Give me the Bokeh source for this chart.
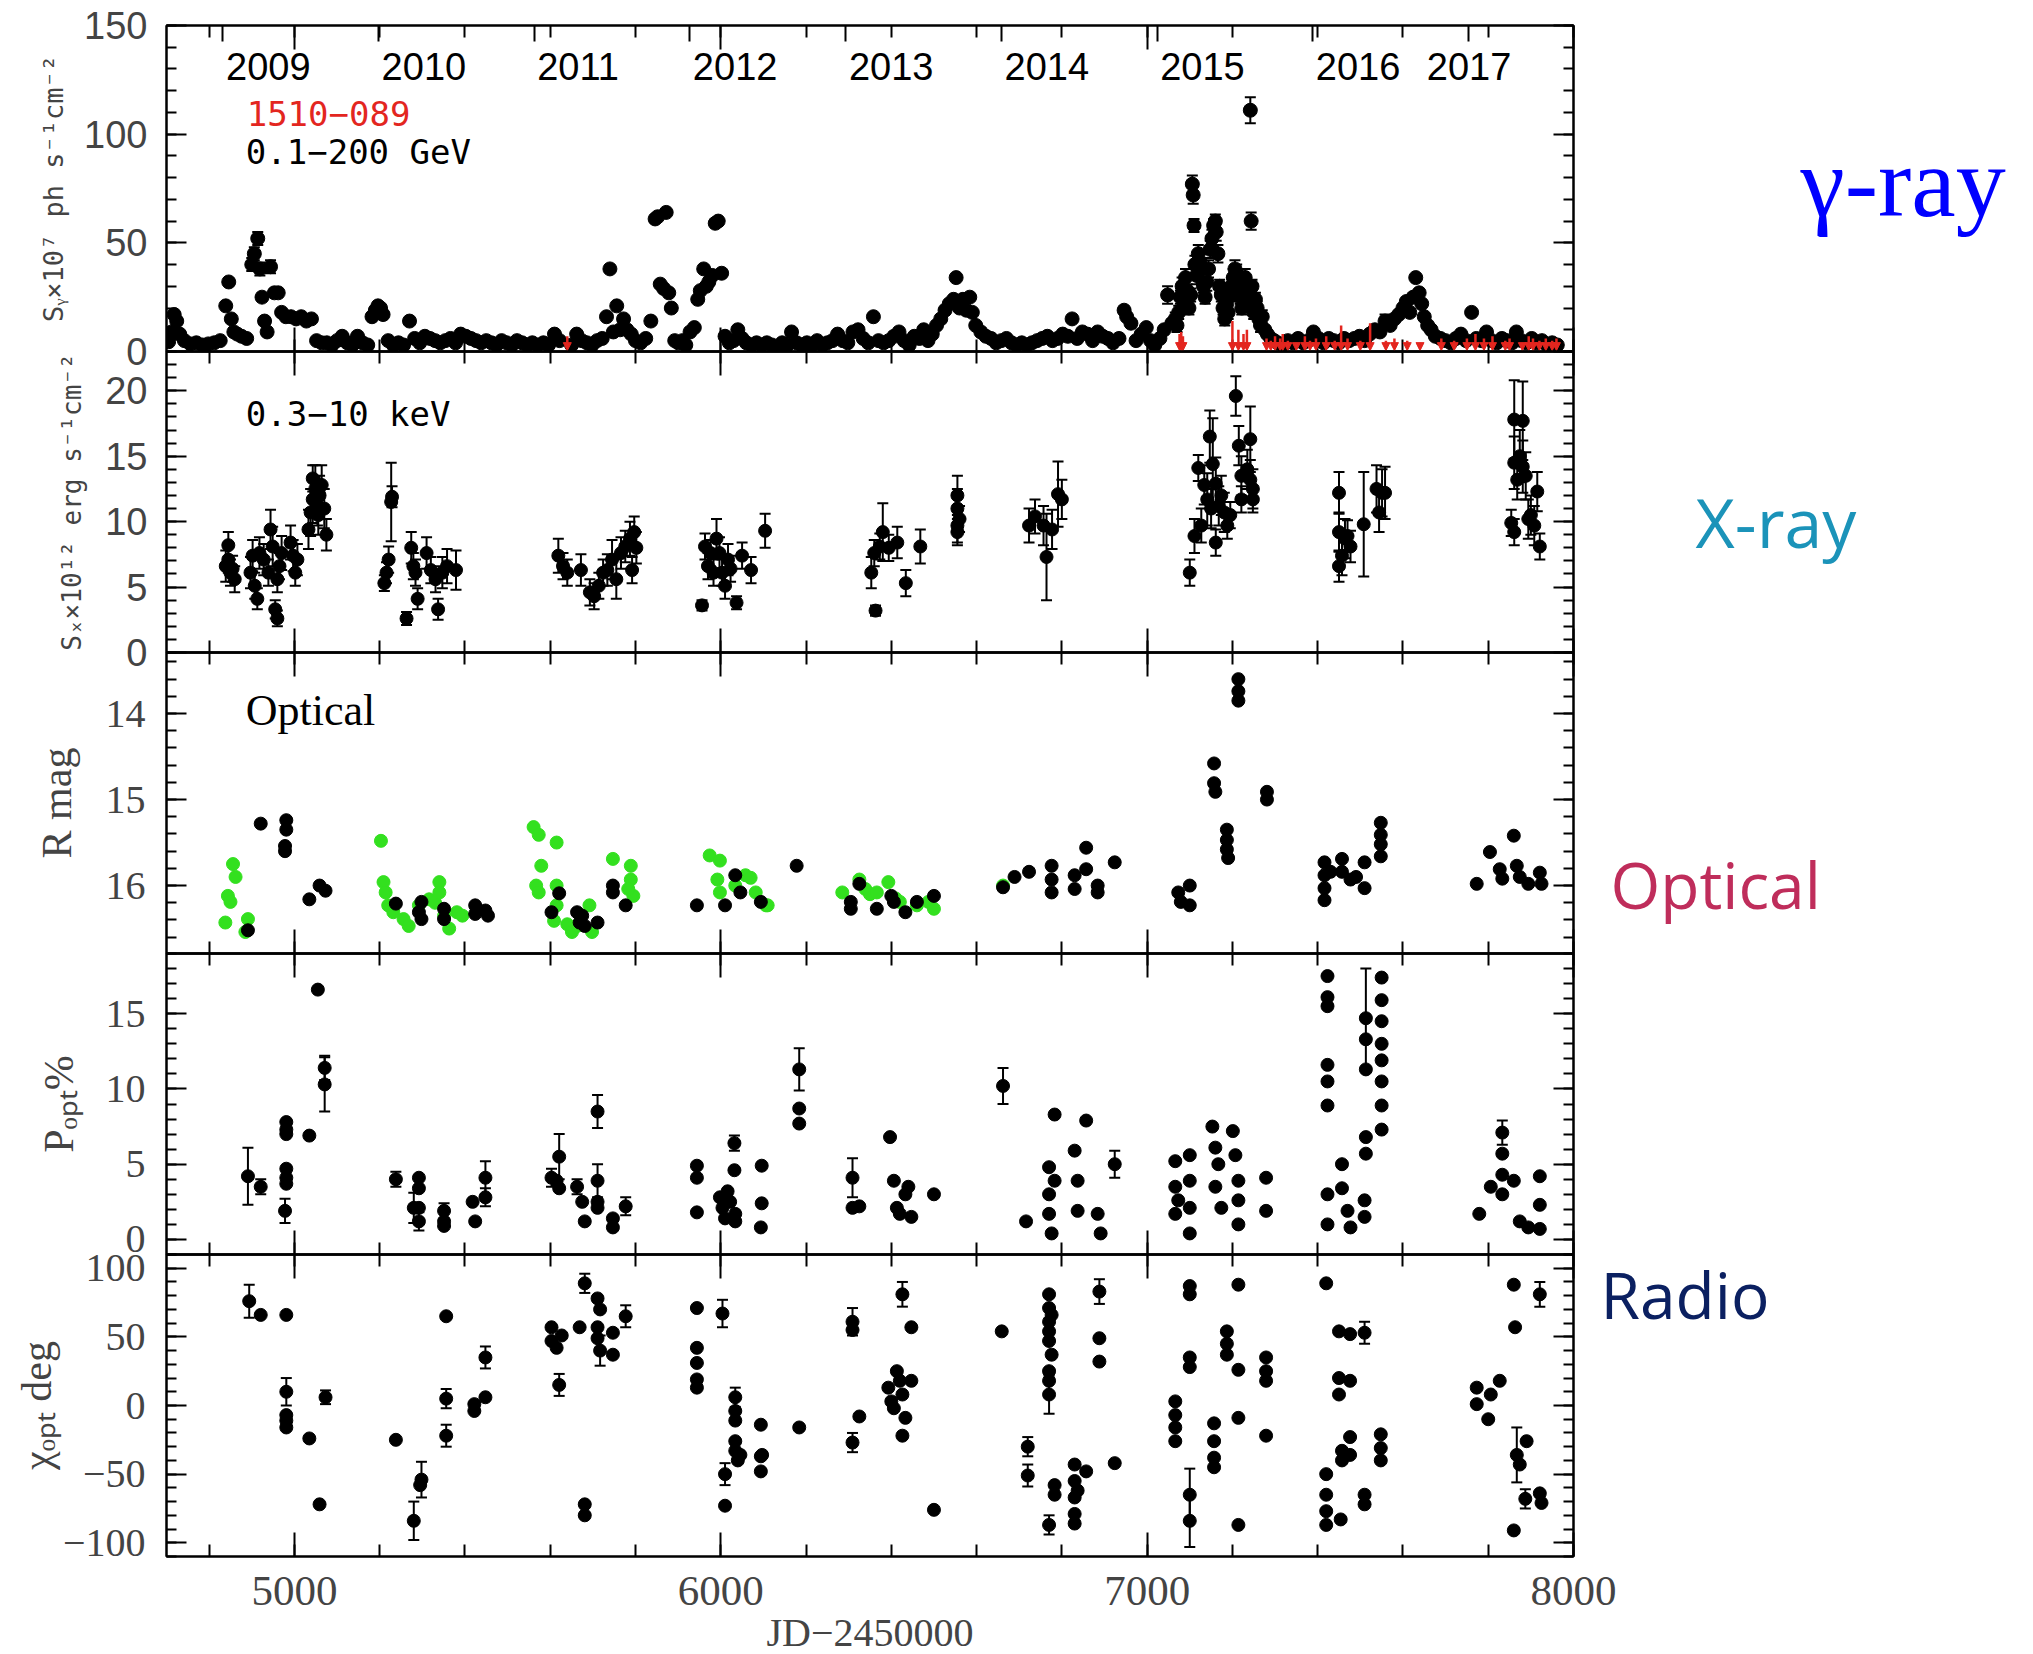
from bokeh.plotting import figure
from bokeh.layouts import column, row
from bokeh.models import (Range1d, LinearAxis, SingleIntervalTicker, FixedTicker, Whisker,
                          TeeHead, ColumnDataSource, Label, Arrow, NormalHead, CustomJSTickFormatter,
                          CustomLabelingPolicy)
from bokeh.embed import file_html
from bokeh.resources import INLINE
from bokeh.core.properties import value

# ---------------- data (JD-2450000) ----------------
year_jd = [4832.5, 5197.5, 5562.5, 5927.5, 6293.5, 6658.5, 7023.5, 7388.5, 7754.5]
year_lab = ["2009", "2010", "2011", "2012", "2013", "2014", "2015", "2016", "2017"]

# gamma-ray: (JD, flux, err)
gamma = [
    (4705, 4.5, 1), (4712, 9, 1), (4718, 17, 2), (4724, 14, 2), (4731, 8, 1), (4742, 5, 1), (4756, 3.5, 1),
    (4770, 4, 1), (4784, 3, 1), (4798, 3.5, 1), (4812, 4, 1), (4826, 5, 1), (4839, 21, 2), (4846, 32, 2),
    (4852, 15, 2), (4858, 9, 1), (4866, 8, 1), (4876, 7, 1), (4888, 6, 1), (4900, 40, 3), (4906, 45, 3),
    (4914, 52, 3), (4919, 38, 3), (4924, 25, 2), (4930, 14, 2), (4936, 9, 1), (4944, 39, 3), (4953, 27, 2),
    (4962, 27, 2), (4970, 18, 2), (4980, 16, 2), (4992, 16, 2), (5004, 15, 2), (5016, 16, 2), (5028, 14, 2),
    (5040, 15, 2), (5052, 5, 1), (5064, 4, 1), (5076, 4, 1), (5088, 3, 1), (5100, 5, 1), (5112, 7, 1),
    (5124, 4, 1), (5136, 3, 1), (5148, 7, 1), (5160, 4, 1), (5172, 3, 1), (5182, 16, 2), (5190, 19, 2),
    (5196, 21, 2), (5202, 20, 2), (5208, 17, 2), (5220, 5, 1), (5232, 3, 1), (5244, 4, 1), (5256, 3, 1),
    (5270, 14, 2), (5282, 6, 1), (5294, 4, 1), (5306, 7, 1), (5318, 6, 1), (5330, 5, 1), (5342, 4, 1),
    (5354, 5, 1), (5366, 6, 1), (5378, 4, 1), (5390, 8, 1), (5402, 7, 1), (5414, 6, 1), (5426, 5, 1),
    (5438, 4, 1), (5450, 5, 1), (5462, 4, 1), (5474, 3, 1), (5486, 5, 1), (5498, 4, 1), (5510, 3, 1),
    (5522, 5, 1), (5534, 4, 1), (5546, 3, 1), (5558, 4, 1), (5570, 3, 1), (5584, 4, 1), (5596, 3, 1),
    (5610, 8, 1), (5622, 5, 1), (5650, 3, 1), (5662, 8, 1), (5674, 5, 1), (5686, 4, 1), (5698, 3, 1),
    (5710, 5, 1), (5722, 6, 1), (5732, 16, 2), (5740, 38, 2), (5748, 9, 1), (5756, 21, 2), (5764, 10, 1),
    (5772, 15, 2), (5780, 10, 1), (5790, 8, 1), (5800, 5, 1), (5812, 4, 1), (5824, 6, 1), (5836, 14, 2),
    (5846, 61, 2), (5852, 62, 2), (5858, 31, 2), (5866, 29, 2), (5872, 64, 2), (5878, 27, 2), (5884, 20, 2),
    (5892, 5, 1), (5900, 4, 1), (5910, 5, 1), (5918, 3, 1), (5928, 9, 1), (5938, 11, 1), (5946, 24, 2),
    (5952, 28, 2), (5960, 38, 2), (5966, 30, 2), (5972, 32, 2), (5980, 35, 2), (5987, 59, 2), (5994, 60, 2),
    (6002, 36, 2), (6010, 7, 1), (6020, 4, 1), (6030, 5, 1), (6040, 10, 1), (6050, 6, 1), (6060, 4, 1),
    (6072, 3, 1), (6084, 4, 1), (6096, 3, 1), (6108, 4, 1), (6120, 3, 1), (6132, 2, 1), (6144, 4, 1),
    (6156, 3, 1), (6166, 9, 1), (6178, 4, 1), (6190, 3, 1), (6202, 4, 1), (6214, 3, 1), (6226, 5, 1),
    (6238, 3, 1), (6250, 4, 1), (6262, 5, 1), (6274, 8, 1), (6286, 5, 1), (6298, 4, 1), (6310, 9, 1),
    (6322, 10, 1), (6334, 6, 1), (6346, 4, 1), (6358, 16, 1), (6370, 5, 1), (6382, 4, 1), (6394, 5, 1),
    (6406, 7, 1), (6418, 9, 1), (6430, 5, 1), (6442, 3, 1), (6454, 7, 1), (6466, 6, 1), (6476, 10, 1),
    (6486, 5, 1), (6496, 8, 1), (6506, 12, 1), (6516, 15, 2), (6526, 19, 2), (6536, 22, 2), (6546, 24, 2),
    (6552, 34, 2), (6560, 20, 2), (6568, 24, 2), (6576, 19, 2), (6584, 25, 2), (6590, 18, 2), (6598, 12, 1),
    (6610, 9, 1), (6622, 7, 1), (6634, 6, 1), (6646, 4, 1), (6658, 5, 1), (6670, 6, 1), (6682, 4, 1),
    (6694, 3, 1), (6706, 4, 1), (6718, 3, 1), (6730, 4, 1), (6742, 5, 1), (6754, 6, 1), (6766, 7, 1),
    (6778, 5, 1), (6790, 6, 1), (6802, 8, 1), (6814, 7, 1), (6824, 15, 2), (6836, 6, 1), (6848, 9, 1),
    (6860, 8, 1), (6872, 5, 1), (6884, 9, 1), (6896, 7, 1), (6908, 6, 1), (6920, 4, 1), (6934, 6, 1),
    (6946, 19, 2), (6952, 16, 2), (6962, 13, 1), (6974, 5, 1), (6986, 8, 1), (6998, 11, 1), (7008, 5, 1),
    (7018, 3, 1), (7030, 6, 1), (7040, 10, 2), (7048, 26, 4), (7058, 13, 2), (7066, 15, 3),
    (7070, 12, 3), (7074, 18, 3), (7078, 25, 3), (7082, 30, 4), (7086, 22, 3), (7090, 34, 4), (7094, 28, 3),
    (7098, 20, 3), (7102, 26, 3), (7106, 77, 4), (7108, 72, 4), (7110, 58, 3), (7112, 40, 4), (7116, 35, 4),
    (7120, 45, 4), (7124, 41, 4), (7128, 38, 4), (7132, 30, 3), (7136, 25, 3), (7140, 32, 4), (7144, 38, 4),
    (7148, 47, 4), (7152, 52, 4), (7156, 58, 3), (7160, 60, 3), (7162, 55, 4), (7166, 45, 4), (7170, 30, 3),
    (7174, 26, 3), (7178, 20, 3), (7182, 15, 3), (7186, 22, 3), (7190, 18, 3), (7194, 26, 3), (7198, 30, 4),
    (7202, 34, 4), (7206, 38, 4), (7210, 36, 4), (7214, 32, 4), (7218, 25, 3), (7222, 20, 3), (7226, 30, 4),
    (7230, 34, 4), (7234, 28, 3), (7238, 22, 3), (7242, 111, 6), (7244, 60, 4), (7246, 30, 3), (7250, 18, 3),
    (7254, 24, 3), (7258, 20, 3), (7262, 15, 3), (7266, 12, 3), (7270, 16, 3), (7276, 10, 2), (7282, 8, 2),
    (7290, 6, 2), (7298, 5, 2), (7306, 4, 1), (7318, 3, 1), (7330, 5, 1), (7342, 4, 1), (7354, 6, 1),
    (7366, 4, 1), (7378, 5, 1), (7390, 9, 1), (7402, 6, 1), (7414, 4, 1), (7426, 6, 1), (7438, 5, 1),
    (7450, 4, 1), (7462, 6, 1), (7474, 5, 1), (7486, 6, 1), (7498, 7, 1), (7510, 5, 1), (7522, 8, 1),
    (7534, 10, 1), (7546, 9, 1), (7558, 14, 3), (7570, 12, 2), (7580, 15, 2), (7590, 17, 2), (7600, 20, 2),
    (7608, 23, 2), (7616, 18, 2), (7624, 25, 2), (7630, 34, 2), (7638, 27, 2), (7644, 22, 2), (7650, 16, 2),
    (7658, 12, 1), (7666, 10, 1), (7676, 7, 1), (7688, 6, 1), (7700, 5, 1), (7712, 4, 1), (7724, 6, 1),
    (7736, 8, 1), (7748, 5, 1), (7761, 18, 1), (7772, 6, 1), (7784, 5, 1), (7796, 9, 1), (7808, 5, 1),
    (7820, 4, 1), (7832, 6, 1), (7844, 5, 1), (7856, 4, 1), (7866, 9, 1), (7878, 5, 1), (7890, 4, 1),
    (7902, 6, 1), (7914, 4, 1), (7926, 5, 1), (7938, 3, 1), (7950, 4, 1), (7962, 3, 1),
]

# gamma-ray upper limits: (JD, limit)
gamma_ul = [
    (5640, 7), (7076, 8), (7080, 9), (7084, 7), (7200, 14), (7214, 10), (7226, 8), (7234, 10), (7280, 6),
    (7290, 5), (7300, 7), (7312, 6), (7318, 8), (7330, 5), (7350, 4), (7370, 7), (7382, 5), (7396, 6),
    (7420, 7), (7440, 5), (7455, 12), (7470, 6), (7500, 5), (7523, 13), (7560, 5), (7580, 6), (7610, 5),
    (7640, 4), (7690, 6), (7720, 5), (7750, 6), (7770, 8), (7790, 6), (7810, 7), (7840, 5), (7850, 6),
    (7880, 4), (7895, 7), (7905, 6), (7920, 5), (7935, 6), (7950, 5), (7960, 6),
]

# X-ray 0.3-10 keV: (JD, flux, err)
xray = [
    (4839, 6.6, 1.2), (4845, 8.2, 1.0), (4845, 7.1, 1.0), (4850, 6.1, 1.0), (4855, 6.4, 1.0), (4860, 5.6, 1.0),
    (4897, 6.1, 1.2), (4902, 7.4, 1.2), (4907, 5.1, 1.0), (4913, 4.1, 0.8), (4918, 7.6, 1.2), (4928, 7.1, 1.2),
    (4939, 6.1, 1.0), (4944, 9.4, 1.5), (4949, 8.1, 1.5), (4955, 3.3, 0.7), (4960, 2.6, 0.6), (4960, 5.6, 1.0),
    (4965, 6.6, 1.0), (4970, 7.6, 1.3), (4991, 8.4, 1.3), (4997, 7.4, 1.2), (5002, 6.1, 1.0), (5007, 7.1, 1.2),
    (5033, 9.4, 1.5), (5038, 10.7, 1.8), (5043, 11.7, 1.8), (5049, 12.5, 1.8), (5054, 11.2, 1.5), (5059, 12.0, 1.5),
    (5064, 12.8, 1.5), (5070, 11.0, 1.5), (5075, 9.0, 1.2), (5043, 13.3, 1.0), (5056, 10.5, 1.5),
    (5211, 5.3, 0.6), (5216, 6.1, 0.8), (5221, 7.1, 1.0), (5227, 11.5, 3.0), (5229, 11.9, 0.8),
    (5263, 2.6, 0.5), (5274, 8.0, 1.2), (5279, 6.6, 1.0), (5284, 6.1, 1.0), (5289, 4.1, 0.8), (5310, 7.6, 1.2),
    (5320, 6.3, 1.0), (5331, 5.6, 1.0), (5337, 3.3, 0.8), (5347, 6.1, 1.2), (5358, 6.6, 1.3), (5379, 6.3, 1.5),
    (5619, 7.4, 1.3), (5630, 6.6, 1.0), (5640, 6.1, 1.0), (5672, 6.3, 1.2), (5693, 4.6, 1.0), (5703, 4.3, 1.0),
    (5714, 5.1, 1.0), (5724, 6.1, 1.0), (5734, 6.3, 1.2), (5745, 7.1, 1.5), (5755, 5.6, 1.5), (5766, 7.6, 1.2),
    (5776, 8.1, 1.2), (5787, 8.7, 1.3), (5797, 9.2, 1.2), (5802, 8.0, 1.2), (5792, 6.3, 1.0),
    (5956, 3.6, 0.4), (5963, 8.1, 1.0), (5970, 6.6, 1.0), (5976, 7.6, 1.0), (5983, 6.1, 1.0), (5990, 8.7, 1.5),
    (5997, 7.6, 1.2), (6003, 6.1, 1.0), (6010, 5.1, 1.0), (6017, 7.1, 1.2), (6023, 6.4, 1.0), (6037, 3.8, 0.5),
    (6050, 7.4, 1.0), (6071, 6.3, 1.0), (6104, 9.3, 1.3),
    (6353, 6.1, 1.2), (6360, 7.6, 1.0), (6363, 3.2, 0.4), (6373, 8.1, 1.0), (6380, 9.2, 2.2), (6394, 8.0, 1.0),
    (6414, 8.4, 1.2), (6434, 5.3, 1.0), (6468, 8.1, 1.3),
    (6555, 12.0, 1.5), (6555, 11.0, 1.5), (6555, 9.7, 1.3), (6555, 9.2, 1.0), (6560, 10.2, 1.0),
    (6723, 9.7, 1.3), (6737, 10.4, 1.3), (6757, 9.7, 1.5), (6764, 7.3, 3.3), (6777, 9.4, 1.5), (6791, 12.1, 2.5),
    (6800, 11.7, 1.5),
    (7100, 6.1, 1.0), (7111, 8.9, 1.3), (7120, 14.1, 1.0), (7127, 9.7, 1.3), (7134, 12.8, 1.5), (7141, 11.7, 2.0),
    (7147, 16.5, 2.0), (7150, 11.0, 1.5), (7154, 14.4, 3.5), (7161, 12.9, 2.0), (7161, 8.4, 1.0), (7168, 11.2, 1.5),
    (7174, 12.0, 1.5), (7181, 10.7, 1.5), (7188, 9.7, 1.0), (7195, 10.5, 1.0), (7208, 19.6, 1.5), (7215, 15.8, 1.5),
    (7221, 13.5, 1.5), (7221, 11.7, 1.0), (7235, 14.0, 1.5), (7242, 16.3, 2.5), (7242, 13.2, 1.5), (7248, 12.5, 1.5),
    (7248, 11.7, 1.0),
    (7450, 12.2, 1.6), (7450, 9.2, 1.5), (7450, 6.6, 1.2), (7457, 7.4, 1.5), (7464, 8.7, 1.5), (7470, 8.9, 1.2),
    (7477, 8.1, 1.2), (7508, 9.8, 4.0), (7538, 12.5, 1.8), (7544, 10.7, 1.5), (7551, 12.2, 1.8), (7558, 12.2, 2.0),
    (7854, 9.9, 1.0), (7861, 9.2, 1.0), (7861, 14.5, 2.0), (7861, 17.8, 3.0), (7868, 13.2, 1.5), (7874, 15.0, 2.0),
    (7881, 14.2, 2.0), (7881, 17.7, 3.0), (7888, 13.5, 1.8), (7894, 10.2, 1.5), (7900, 10.5, 1.5), (7908, 9.7, 1.5),
    (7915, 12.3, 1.5), (7921, 8.1, 1.0),
]

# Optical R mag, black points: (JD, mag)
opt_black = [
    (4891, 16.52), (4921, 15.28), (4981, 15.24), (4981, 15.35), (4978, 15.54), (4978, 15.6), (5035, 16.16),
    (5059, 16.0), (5073, 16.06),
    (5238, 16.21), (5298, 16.19), (5298, 16.39), (5292, 16.31), (5351, 16.27), (5351, 16.39), (5424, 16.23),
    (5424, 16.33), (5448, 16.29), (5454, 16.35),
    (5603, 16.31), (5621, 16.09), (5663, 16.31), (5669, 16.43), (5675, 16.35), (5681, 16.47), (5711, 16.43),
    (5747, 16.0), (5747, 16.08), (5777, 16.23),
    (5944, 16.23), (6010, 16.23), (6034, 15.88), (6046, 16.08), (6094, 16.19), (6178, 15.77),
    (6305, 16.19), (6305, 16.27), (6325, 15.98), (6366, 16.27), (6400, 16.12), (6406, 16.19), (6433, 16.31),
    (6460, 16.19), (6500, 16.12),
    (6662, 16.02), (6689, 15.9), (6723, 15.84), (6776, 15.77), (6776, 15.93), (6776, 16.08), (6830, 15.88),
    (6830, 16.04), (6857, 15.56), (6857, 15.81), (6884, 16.0), (6884, 16.08), (6924, 15.73),
    (7073, 16.08), (7079, 16.19), (7100, 16.0), (7100, 16.23), (7157, 14.58), (7157, 14.81), (7160, 14.91),
    (7187, 15.35), (7187, 15.47), (7187, 15.58), (7190, 15.68), (7214, 13.6), (7214, 13.74), (7214, 13.85),
    (7281, 14.91), (7281, 15.0),
    (7416, 15.73), (7416, 15.88), (7416, 16.03), (7416, 16.17), (7430, 15.84), (7457, 15.69), (7457, 15.84),
    (7477, 15.93), (7490, 15.9), (7510, 15.73), (7510, 16.03), (7548, 15.27), (7548, 15.41), (7548, 15.52),
    (7548, 15.66),
    (7773, 15.98), (7804, 15.61), (7827, 15.81), (7833, 15.92), (7860, 15.42), (7867, 15.77), (7874, 15.9),
    (7894, 15.98), (7921, 15.85), (7925, 15.98),
]

# Optical R mag, green points: (JD, mag)
opt_green = [
    (4856, 15.75), (4862, 15.9), (4844, 16.12), (4850, 16.19), (4838, 16.43), (4891, 16.39), (4885, 16.54),
    (5203, 15.48), (5209, 15.96), (5214, 16.08), (5220, 16.23), (5232, 16.31), (5256, 16.39), (5268, 16.47),
    (5292, 16.23), (5316, 16.16), (5330, 16.2), (5340, 15.96), (5340, 16.08), (5351, 16.35), (5363, 16.5),
    (5381, 16.31), (5394, 16.35),
    (5561, 15.32), (5573, 15.41), (5615, 15.5), (5579, 15.77), (5567, 16.0), (5573, 16.08), (5615, 16.0),
    (5615, 16.23), (5609, 16.41), (5640, 16.45), (5651, 16.54), (5663, 16.47), (5692, 16.23), (5698, 16.54),
    (5747, 15.69), (5789, 15.77), (5789, 15.93), (5795, 16.12), (5783, 16.04),
    (5974, 15.65), (5998, 15.71), (5992, 15.93), (5998, 16.08), (6034, 16.0), (6058, 15.88), (6070, 15.91),
    (6082, 16.08), (6106, 16.23), (6110, 16.23),
    (6285, 16.08), (6325, 15.93), (6339, 16.04), (6350, 16.1), (6366, 16.08), (6393, 15.96), (6410, 16.15),
    (6420, 16.19), (6460, 16.23), (6487, 16.19), (6500, 16.27),
    (6662, 16.0),
]

# optical polarization degree: (JD, P%, err)
pol = [
    (4891, 4.2, 1.9), (4921, 3.5, 0.5), (4981, 7.8, 0.4), (4981, 7.3, 0.4), (4981, 7.0, 0.4), (4981, 4.7, 0.4),
    (4981, 4.1, 0.4), (4981, 3.7, 0.4), (4978, 1.9, 0.8), (5035, 6.9, 0.3), (5055, 16.6, 0.3), (5071, 11.4, 0.8),
    (5071, 10.3, 1.8),
    (5238, 4.0, 0.5), (5280, 2.1, 1.0), (5292, 4.1, 0.4), (5292, 3.4, 0.4), (5292, 2.1, 0.4), (5292, 1.2, 0.6),
    (5351, 1.9, 0.5), (5351, 1.2, 0.3), (5351, 0.9, 0.3), (5418, 2.5, 0.3), (5424, 1.2, 0.3), (5448, 4.1, 1.1),
    (5448, 2.8, 0.6),
    (5603, 4.1, 0.6), (5615, 3.9, 0.3), (5621, 5.5, 1.5), (5621, 3.4, 0.3), (5663, 3.5, 0.5), (5675, 2.5, 0.3),
    (5681, 1.2, 0.3), (5711, 8.5, 1.1), (5711, 3.9, 1.1), (5711, 2.5, 0.3), (5711, 2.1, 0.3), (5747, 1.4, 0.3),
    (5747, 0.8, 0.3), (5777, 2.2, 0.6),
    (5944, 4.9, 0.3), (5944, 4.1, 0.3), (5944, 1.8, 0.3), (5998, 2.8, 0.3), (6004, 2.1, 0.3), (6010, 1.4, 0.3),
    (6016, 3.2, 0.3), (6022, 2.5, 0.3), (6032, 6.4, 0.5), (6032, 4.6, 0.3), (6034, 1.7, 0.3), (6034, 1.2, 0.3),
    (6096, 4.9, 0.3), (6096, 2.4, 0.3), (6094, 0.8, 0.3),
    (6184, 11.3, 1.4), (6184, 8.7, 0.3), (6184, 7.7, 0.3),
    (6309, 4.1, 1.3), (6309, 2.1, 0.3), (6325, 2.2, 0.3), (6397, 6.8, 0.3), (6406, 3.9, 0.3), (6413, 2.1, 0.3),
    (6420, 1.7, 0.3), (6433, 3.0, 0.3), (6440, 3.5, 0.3), (6447, 1.5, 0.3), (6500, 3.0, 0.3),
    (6662, 10.2, 1.2), (6716, 1.2, 0.3), (6770, 4.8, 0.3), (6770, 3.0, 0.3), (6770, 1.7, 0.3), (6776, 0.4, 0.3),
    (6783, 3.9, 0.3), (6783, 8.3, 0.3), (6830, 5.9, 0.3), (6837, 3.9, 0.3), (6837, 1.9, 0.3), (6857, 7.9, 0.3),
    (6884, 1.7, 0.3), (6891, 0.4, 0.3), (6924, 5.0, 0.9),
    (7066, 5.2, 0.3), (7066, 3.5, 0.3), (7066, 1.7, 0.3), (7073, 2.6, 0.3), (7100, 5.6, 0.3), (7100, 3.9, 0.3),
    (7100, 2.1, 0.3), (7100, 0.4, 0.3), (7153, 7.5, 0.3), (7160, 6.1, 0.3), (7167, 5.0, 0.3), (7160, 3.5, 0.3),
    (7174, 2.1, 0.3), (7201, 7.2, 0.3), (7207, 5.6, 0.3), (7214, 3.9, 0.3), (7214, 2.6, 0.3), (7214, 1.0, 0.3),
    (7279, 4.1, 0.3), (7279, 1.9, 0.3),
    (7423, 17.5, 0.3), (7423, 16.1, 0.3), (7423, 15.5, 0.3), (7423, 11.6, 0.3), (7423, 10.5, 0.3), (7423, 8.9, 0.3),
    (7423, 3.0, 0.3), (7423, 1.0, 0.3), (7457, 5.0, 0.3), (7457, 3.4, 0.3), (7470, 1.9, 0.3), (7477, 0.8, 0.3),
    (7510, 2.6, 0.3), (7510, 1.5, 0.3), (7513, 14.7, 3.3), (7513, 13.3, 0.3), (7513, 11.3, 0.3), (7513, 6.8, 0.3),
    (7513, 5.7, 0.3), (7550, 17.4, 0.3), (7550, 15.9, 0.3), (7550, 14.5, 0.3), (7550, 13.0, 0.3), (7550, 11.9, 0.3),
    (7550, 10.5, 0.3), (7550, 8.9, 0.3), (7550, 7.3, 0.3),
    (7779, 1.7, 0.3), (7806, 3.5, 0.3), (7833, 7.1, 0.8), (7833, 5.7, 0.3), (7833, 4.3, 0.3), (7833, 3.0, 0.3),
    (7860, 3.9, 0.3), (7874, 1.2, 0.3), (7894, 0.8, 0.3), (7921, 4.2, 0.3), (7921, 2.3, 0.3), (7921, 0.7, 0.3),
]

# optical polarization angle: (JD, chi deg, err)
chi = [
    (4894, 76, 12), (4921, 66, 3), (4981, 66, 3), (4981, 10, 10), (4981, -7, 3), (4981, -11, 3), (4981, -16, 3),
    (5035, -24, 3), (5059, -72, 3), (5073, 6, 5),
    (5238, -25, 3), (5280, -84, 14), (5298, -54, 13), (5295, -58, 3), (5356, 65, 3), (5356, 5, 7), (5356, -22, 8),
    (5422, 1, 3), (5422, -4, 3), (5448, 35, 8), (5448, 6, 3),
    (5603, 57, 3), (5603, 47, 3), (5615, 42, 3), (5621, 15, 8), (5627, 51, 3), (5669, 57, 3), (5681, 89, 7),
    (5681, -72, 3), (5681, -80, 3), (5711, 78, 3), (5717, 70, 3), (5711, 57, 3), (5711, 49, 3), (5717, 40, 11),
    (5747, 53, 3), (5747, 37, 3), (5777, 65, 8),
    (5944, 71, 3), (5944, 42, 3), (5944, 31, 3), (5944, 19, 3), (5944, 13, 3), (6004, 67, 10), (6010, -50, 8),
    (6010, -73, 3), (6034, 6, 7), (6034, -4, 3), (6034, -11, 3), (6034, -26, 3), (6034, -33, 3), (6040, -40, 3),
    (6046, -36, 3), (6094, -14, 3), (6094, -37, 3), (6094, -48, 3), (6097, -36, 3),
    (6184, -16, 3),
    (6309, 61, 10), (6309, 55, 3), (6309, -27, 7), (6325, -8, 3), (6393, 13, 3), (6400, 3, 3), (6406, -2, 3),
    (6413, 25, 3), (6420, 18, 3), (6426, 81, 9), (6426, 8, 3), (6426, -22, 3), (6433, -9, 3), (6447, 57, 3),
    (6447, 18, 3), (6500, -76, 3),
    (6659, 54, 3), (6720, -30, 7), (6720, -51, 8), (6770, 81, 3), (6770, 71, 3), (6770, 61, 3), (6770, 54, 3),
    (6770, 47, 3), (6770, 25, 3), (6770, 18, 3), (6770, 8, 14), (6776, 66, 3), (6776, 37, 3), (6783, -58, 3),
    (6783, -65, 3), (6770, -87, 7), (6830, -43, 3), (6830, -55, 3), (6830, -67, 3), (6830, -79, 3),
    (6830, -86, 3), (6837, -62, 3), (6857, -48, 3), (6888, 83, 9), (6888, 49, 3), (6888, 32, 3), (6924, -42, 3),
    (7066, 3, 3), (7066, -7, 3), (7066, -16, 3), (7066, -26, 3), (7100, 87, 3), (7100, 81, 3), (7100, 35, 3),
    (7100, 28, 3), (7100, -65, 19), (7100, -84, 19), (7157, -13, 3), (7157, -26, 3), (7157, -38, 3),
    (7157, -45, 3), (7187, 54, 3), (7187, 45, 3), (7187, 37, 3), (7214, 88, 3), (7214, 26, 3), (7214, -9, 3),
    (7214, -87, 3), (7279, 35, 3), (7279, 25, 3), (7279, 18, 3), (7279, -22, 3),
    (7420, 89, 3), (7420, -50, 3), (7420, -65, 3), (7420, -77, 3), (7420, -87, 3), (7450, 54, 3), (7450, 20, 3),
    (7450, 8, 3), (7454, -83, 3), (7457, -33, 3), (7457, -40, 3), (7476, 52, 3), (7476, 18, 3), (7476, -23, 3),
    (7476, -36, 3), (7510, 53, 8), (7510, -65, 3), (7510, -72, 3), (7548, -21, 3), (7548, -31, 3), (7548, -40, 3),
    (7773, 13, 3), (7773, 1, 3), (7800, -10, 3), (7806, 8, 3), (7827, 18, 3), (7860, 88, 3), (7863, 57, 3),
    (7860, -91, 3), (7867, -36, 20), (7874, -43, 3), (7887, -68, 7), (7890, -26, 3), (7921, 81, 9),
    (7921, -64, 3), (7925, -71, 3),
]

# band names written to the right of the panels
band_names = ["\u03b3-ray", "X-ray", "Optical", "Radio"]

# ---------------- styling ----------------
X_START, X_END = 4700, 8000
FRAME_W = 1407
LEFT, RIGHT = 166, 60
MAIN_W = LEFT + FRAME_W + RIGHT
SIDE_X0 = 1580
SIDE_W = 2033 - SIDE_X0
TOTAL_H = 1654
PAD = 30
SANS = "Liberation Sans"
SERIF = "Liberation Serif"
MONO = "DejaVu Sans Mono"
RED = "#e3261f"
GREEN = "#33e01f"
MINUS_FMT = CustomJSTickFormatter(code="return tick < 0 ? '\u2212' + (-tick) : String(tick);")


def no_labels():
    return CustomLabelingPolicy(code="return [];")


def make_fig(frame_h, y_range, top, bottom):
    p = figure(frame_width=FRAME_W, frame_height=frame_h, x_range=Range1d(X_START, X_END), y_range=y_range,
               output_backend="svg", toolbar_location=None, x_axis_location=None, y_axis_location=None,
               min_border_left=LEFT, min_border_right=RIGHT, min_border_top=top, min_border_bottom=bottom)
    p.grid.visible = False
    p.outline_line_color = "black"
    p.outline_line_width = 2
    p.border_fill_color = None
    p.background_fill_color = None
    return p


def hidden_axis(ticker, tick_in, minor_in):
    return LinearAxis(ticker=ticker, major_tick_in=tick_in, minor_tick_in=minor_in, major_tick_out=0,
                      minor_tick_out=0, axis_line_width=2, major_tick_line_width=2, minor_tick_line_width=2,
                      major_label_standoff=0, major_label_text_font_size="0px", major_label_policy=no_labels())


def add_axes(p, y_major, tick_font, tick_size, tick_standoff, ylabel, ylab_font, ylab_size, ylab_standoff,
             xlabels=False, formatter=None):
    left = LinearAxis(ticker=SingleIntervalTicker(interval=y_major, num_minor_ticks=5),
                      major_tick_in=20, minor_tick_in=10, major_tick_out=0, minor_tick_out=0,
                      axis_line_width=2, major_tick_line_width=2, minor_tick_line_width=2,
                      major_label_standoff=tick_standoff,
                      major_label_text_font=tick_font, major_label_text_font_size=tick_size,
                      axis_label=ylabel, axis_label_text_font=ylab_font, axis_label_text_font_size=ylab_size,
                      axis_label_text_font_style="normal", axis_label_standoff=ylab_standoff)
    if formatter is not None:
        left.formatter = formatter
    p.add_layout(left, "left")
    p.add_layout(hidden_axis(SingleIntervalTicker(interval=y_major, num_minor_ticks=5), 20, 10), "right")
    p.add_layout(hidden_axis(SingleIntervalTicker(interval=1000, num_minor_ticks=5), 24, 12), "above")
    if xlabels:
        bottom = LinearAxis(ticker=SingleIntervalTicker(interval=1000, num_minor_ticks=5),
                            major_tick_in=24, minor_tick_in=12, major_tick_out=0, minor_tick_out=0,
                            axis_line_width=2, major_tick_line_width=2, minor_tick_line_width=2,
                            major_label_standoff=20, major_label_text_font=SERIF,
                            major_label_text_font_size="43px", axis_label="JD\u22122450000",
                            axis_label_text_font=SERIF, axis_label_text_font_size="40px",
                            axis_label_text_font_style="normal", axis_label_standoff=2)
    else:
        bottom = hidden_axis(SingleIntervalTicker(interval=1000, num_minor_ticks=5), 24, 12)
    p.add_layout(bottom, "below")


def points(p, data, size=13, color="black"):
    src = ColumnDataSource(dict(x=[d[0] for d in data], y=[d[1] for d in data]))
    p.scatter("x", "y", source=src, size=size, color=color)


def errbars(p, data, min_err):
    sel = [d for d in data if d[2] >= min_err]
    src = ColumnDataSource(dict(x=[d[0] for d in sel], lo=[d[1] - d[2] for d in sel],
                                hi=[d[1] + d[2] for d in sel]))
    p.add_layout(Whisker(source=src, base="x", lower="lo", upper="hi", line_color="black", line_width=2,
                         lower_head=TeeHead(size=11, line_width=2, line_color="black"),
                         upper_head=TeeHead(size=11, line_width=2, line_color="black")))


# ---------------- panel 1: gamma ----------------
p1 = make_fig(326, Range1d(0, 150), 25, PAD)
add_axes(p1, 50, SANS, "38px", 19, "S\u1d67\u00d710\u2077 ph s\u207b\u00b9cm\u207b\u00b2", MONO, "27px", 12)
p1.add_layout(LinearAxis(ticker=FixedTicker(ticks=year_jd, minor_ticks=[]), major_tick_in=16, major_tick_out=0,
                         major_tick_line_width=2, axis_line_color=None, major_label_standoff=0,
                         major_label_text_font_size="0px", major_label_policy=no_labels()), "above")
for jd, lab in zip(year_jd, year_lab):
    off = -42 if lab == "2017" else 3
    p1.add_layout(Label(x=jd, y=131, x_offset=off, text=lab, text_font=SANS, text_font_size="38px",
                        text_baseline="middle", text_align="left", text_color="black"))
ul_src = ColumnDataSource(dict(x=[u[0] for u in gamma_ul], top=[u[1] for u in gamma_ul],
                               bot=[0.4 for u in gamma_ul]))
errbars(p1, gamma, 2.5)
points(p1, gamma, size=14)
p1.add_layout(Arrow(source=ul_src, x_start="x", y_start="top", x_end="x", y_end="bot", line_color=RED,
                    line_width=2.5, end=NormalHead(size=8, fill_color=RED, line_color=RED)))
p1.add_layout(Label(x=4888, y=109.5, text="1510\u2212089", text_color=RED, text_font=MONO,
                    text_font_size="34px", text_baseline="middle"))
p1.add_layout(Label(x=4886, y=92, text="0.1\u2212200 GeV", text_color="black", text_font=MONO,
                    text_font_size="34px", text_baseline="middle"))

# ---------------- panel 2: X-ray ----------------
p2 = make_fig(301, Range1d(0, 23), PAD, PAD)
add_axes(p2, 5, SANS, "38px", 19, "S\u2093\u00d710\u00b9\u00b2 erg s\u207b\u00b9cm\u207b\u00b2", MONO, "26px", 15)
errbars(p2, xray, 0.0)
points(p2, xray)
p2.add_layout(Label(x=4886, y=18.2, text="0.3\u221210 keV", text_color="black", text_font=MONO,
                    text_font_size="34px", text_baseline="middle"))

# ---------------- panel 3: optical R mag ----------------
p3 = make_fig(301, Range1d(16.79, 13.29), PAD, PAD)
add_axes(p3, 1, SERIF, "40px", 21, "R mag", SERIF, "42px", 23)
points(p3, opt_green, color=GREEN)
points(p3, opt_black)
p3.add_layout(Label(x=4886, y=13.97, text="Optical", text_color="black", text_font=SERIF,
                    text_font_size="44px", text_baseline="middle"))

# ---------------- panel 4: polarization degree ----------------
p4 = make_fig(301, Range1d(-1, 19), PAD, PAD)
add_axes(p4, 5, SERIF, "40px", 21, "P\u2092\u209a\u209c%", SERIF, "42px", 21)
errbars(p4, pol, 0.5)
points(p4, pol)

# ---------------- panel 5: polarization angle ----------------
p5 = make_fig(302, Range1d(-110, 110), PAD, 98)
add_axes(p5, 50, SERIF, "40px", 21, "\u03c7\u2092\u209a\u209c deg", SERIF, "42px", 0,
         xlabels=True, formatter=MINUS_FMT)
errbars(p5, chi, 5)
points(p5, chi)

for p in (p2, p3, p4, p5):
    p.margin = (-2 * PAD, 0, 0, 0)

# ---------------- side strip with band names (page pixel coordinates) ----------------
side = figure(frame_width=SIDE_W, frame_height=TOTAL_H, x_range=Range1d(SIDE_X0, 2033),
              y_range=Range1d(TOTAL_H, 0), output_backend="svg", toolbar_location=None,
              x_axis_location=None, y_axis_location=None, min_border=0)
side.grid.visible = False
side.outline_line_color = None
side.border_fill_color = None
side.background_fill_color = None
side.margin = (0, 0, 0, SIDE_X0 - MAIN_W)
side.text(x=[1800], y=[182], text=[band_names[0]], text_color="#0000ff", text_font=value(SERIF),
          text_font_size="100px", text_baseline="middle", text_align="left")
side.text(x=[1695], y=[521], text=[band_names[1]], text_color="#1b93b9", text_font=value("Open Sans"),
          text_font_size="68px", text_baseline="middle", text_align="left")
side.text(x=[1610], y=[884], text=[band_names[2]], text_color="#bf2d5b", text_font=value("Open Sans"),
          text_font_size="64px", text_baseline="middle", text_align="left")
side.text(x=[1600], y=[1294], text=[band_names[3]], text_color="#0b2061", text_font=value("Open Sans"),
          text_font_size="64px", text_baseline="middle", text_align="left")

layout = row(column(p1, p2, p3, p4, p5, spacing=0), side, spacing=0)
open("out.html", "w").write(file_html(layout, INLINE))
